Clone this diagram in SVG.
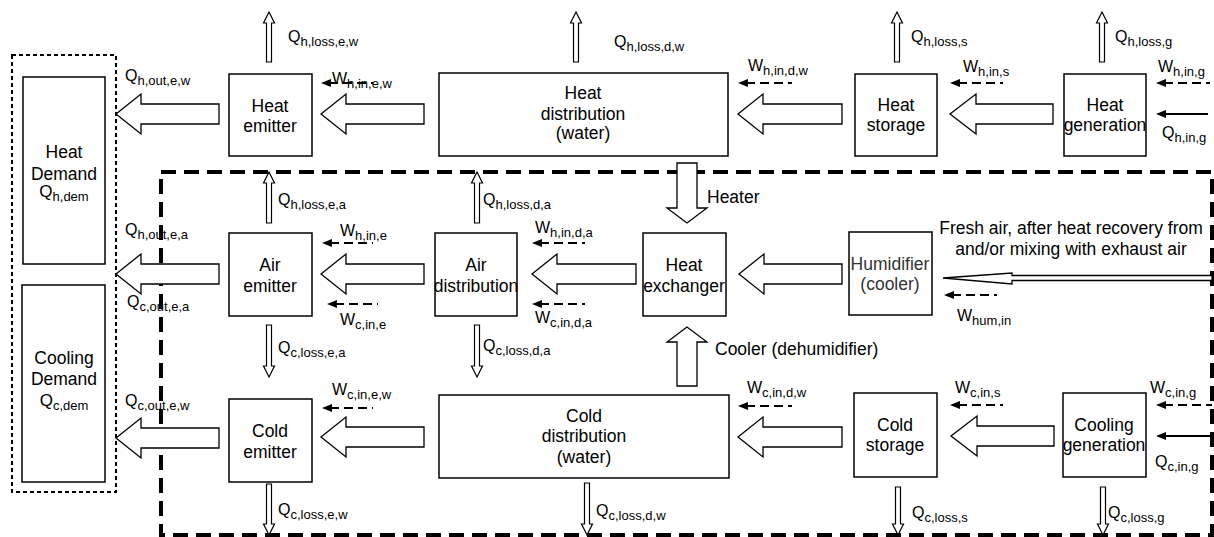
<svg xmlns="http://www.w3.org/2000/svg" width="1214" height="537" viewBox="0 0 1214 537">
<defs>
<style>
.box{fill:#fff;stroke:#000;stroke-width:1.5}
.big{fill:#fff;stroke:#000;stroke-width:1.3}
.sm{fill:#fff;stroke:#000;stroke-width:1.2}
.lbl{font-family:"Liberation Sans",Arial,sans-serif;font-size:17.5px;text-anchor:middle;fill:#000}
.q{font-family:"Liberation Sans",Arial,sans-serif;font-size:16px;fill:#000}
.s{font-size:13px}
.dash{stroke:#000;stroke-width:2;stroke-dasharray:9 5;fill:none}
.solid{stroke:#000;stroke-width:2;fill:none}
.head{fill:#000}
</style>
</defs>
<rect width="1214" height="537" fill="#fff"/>

<!-- boundaries -->
<g id="boundaries">
<rect x="12" y="55" width="104" height="437" fill="none" stroke="#000" stroke-width="2" stroke-dasharray="4 3"/>
<rect x="161" y="172" width="1051" height="363" fill="none" stroke="#000" stroke-width="4" stroke-dasharray="15 8"/>
</g>

<!-- nodes -->
<g id="heat-demand"><rect class="box" x="23" y="77" width="82" height="187"/>
<text class="lbl" x="64" y="158">Heat</text><text class="lbl" x="64" y="180">Demand</text>
<text class="q" x="64" y="197" text-anchor="middle" style="font-size:17px">Q<tspan class="s" dy="4">h,dem</tspan></text></g>
<g id="cooling-demand"><rect class="box" x="22" y="285" width="83" height="197"/>
<text class="lbl" x="64" y="364">Cooling</text><text class="lbl" x="64" y="385">Demand</text>
<text class="q" x="64" y="406" text-anchor="middle" style="font-size:17px">Q<tspan class="s" dy="4">c,dem</tspan></text></g>

<g id="heat-emitter"><rect class="box" x="229" y="74" width="83" height="82"/>
<text class="lbl" x="270" y="112">Heat</text><text class="lbl" x="270" y="132">emitter</text></g>
<g id="heat-distribution"><rect class="box" x="439" y="73" width="289" height="83"/>
<text class="lbl" x="583" y="99">Heat</text><text class="lbl" x="583" y="120">distribution</text><text class="lbl" x="583" y="139">(water)</text></g>
<g id="heat-storage"><rect class="box" x="855" y="74" width="82" height="82"/>
<text class="lbl" x="896" y="111">Heat</text><text class="lbl" x="896" y="131">storage</text></g>
<g id="heat-generation"><rect class="box" x="1064" y="74" width="82" height="82"/>
<text class="lbl" x="1105" y="111">Heat</text><text class="lbl" x="1105" y="131">generation</text></g>

<g id="air-emitter"><rect class="box" x="229" y="233" width="83" height="83"/>
<text class="lbl" x="270" y="271">Air</text><text class="lbl" x="270" y="292">emitter</text></g>
<g id="air-distribution"><rect class="box" x="435" y="233" width="82" height="83"/>
<text class="lbl" x="476" y="271">Air</text><text class="lbl" x="476" y="292">distribution</text></g>
<g id="heat-exchanger"><rect class="box" x="643" y="233" width="83" height="83"/>
<text class="lbl" x="684" y="271">Heat</text><text class="lbl" x="684" y="292">exchanger</text></g>
<g id="humidifier"><rect class="box" x="849" y="232" width="83" height="83"/>
<text class="lbl" x="890" y="270" style="fill:#333">Humidifier</text><text class="lbl" x="890" y="290" style="fill:#333">(cooler)</text></g>

<g id="cold-emitter"><rect class="box" x="229" y="399" width="83" height="83"/>
<text class="lbl" x="270" y="437">Cold</text><text class="lbl" x="270" y="458">emitter</text></g>
<g id="cold-distribution"><rect class="box" x="439" y="395" width="290" height="83"/>
<text class="lbl" x="584" y="422">Cold</text><text class="lbl" x="584" y="442">distribution</text><text class="lbl" x="584" y="463">(water)</text></g>
<g id="cold-storage"><rect class="box" x="854" y="393" width="83" height="84"/>
<text class="lbl" x="895" y="431">Cold</text><text class="lbl" x="895" y="451">storage</text></g>
<g id="cooling-generation"><rect class="box" x="1063" y="393" width="83" height="84"/>
<text class="lbl" x="1104" y="431">Cooling</text><text class="lbl" x="1104" y="451">generation</text></g>

<!-- connectors -->
<g id="connectors">
<path class="big" d="M116,114 L141,94 L141,104 L219,104 L219,124 L141,124 L141,134 Z"/>
<path class="big" d="M321,114 L346,94 L346,104 L424,104 L424,124 L346,124 L346,134 Z"/>
<path class="big" d="M738,114 L763,94 L763,104 L842,104 L842,124 L763,124 L763,134 Z"/>
<path class="big" d="M950,114 L976,94 L976,104 L1053,104 L1053,124 L976,124 L976,134 Z"/>
<path class="big" d="M116,274 L141,254 L141,264 L219,264 L219,284 L141,284 L141,294 Z"/>
<path class="big" d="M321,274 L346,254 L346,264 L424,264 L424,284 L346,284 L346,294 Z"/>
<path class="big" d="M532,274 L557,254 L557,264 L636,264 L636,284 L557,284 L557,294 Z"/>
<path class="big" d="M739,274 L764,254 L764,264 L842,264 L842,284 L764,284 L764,294 Z"/>
<path class="big" d="M116,438 L141,418 L141,428 L219,428 L219,448 L141,448 L141,458 Z"/>
<path class="big" d="M321,437 L346,417 L346,427 L424,427 L424,447 L346,447 L346,457 Z"/>
<path class="big" d="M738,437 L763,417 L763,427 L842,427 L842,447 L763,447 L763,457 Z"/>
<path class="big" d="M951,436 L977,416 L977,426 L1054,426 L1054,446 L977,446 L977,456 Z"/>
<path class="big" d="M687,223 L667,208 L677,208 L677,163 L697,163 L697,208 L707,208 Z"/>
<path class="big" d="M687,327 L667,342 L677,342 L677,386 L697,386 L697,342 L707,342 Z"/>
<path class="big" d="M943,278 L1012,273 L1012,275.5 L1212,275.5 L1212,280.5 L1012,280.5 L1012,284 Z"/>
<path class="sm" d="M269,12 L274.5,23 L271.5,23 L271.5,62 L266.5,62 L266.5,23 L263.5,23 Z"/>
<path class="sm" d="M576,12 L581.5,23 L578.5,23 L578.5,62 L573.5,62 L573.5,23 L570.5,23 Z"/>
<path class="sm" d="M897,12 L902.5,23 L899.5,23 L899.5,62 L894.5,62 L894.5,23 L891.5,23 Z"/>
<path class="sm" d="M1102,12 L1107.5,23 L1104.5,23 L1104.5,62 L1099.5,62 L1099.5,23 L1096.5,23 Z"/>
<path class="sm" d="M269,172 L274.5,183 L271.5,183 L271.5,223 L266.5,223 L266.5,183 L263.5,183 Z"/>
<path class="sm" d="M477,172 L482.5,183 L479.5,183 L479.5,223 L474.5,223 L474.5,183 L471.5,183 Z"/>
<path class="sm" d="M269,377 L274.5,366 L271.5,366 L271.5,325 L266.5,325 L266.5,366 L263.5,366 Z"/>
<path class="sm" d="M477,377 L482.5,366 L479.5,366 L479.5,325 L474.5,325 L474.5,366 L471.5,366 Z"/>
<path class="sm" d="M269,535 L274.5,524 L271.5,524 L271.5,484 L266.5,484 L266.5,524 L263.5,524 Z"/>
<path class="sm" d="M587,535 L592.5,524 L589.5,524 L589.5,483 L584.5,483 L584.5,524 L581.5,524 Z"/>
<path class="sm" d="M898,535 L903.5,524 L900.5,524 L900.5,487 L895.5,487 L895.5,524 L892.5,524 Z"/>
<path class="sm" d="M1103,535 L1108.5,524 L1105.5,524 L1105.5,487 L1100.5,487 L1100.5,524 L1097.5,524 Z"/>
<line class="dash" x1="329" y1="83" x2="373" y2="83"/><path class="head" d="M321,83 L331,79 L331,87 Z"/>
<line class="dash" x1="746" y1="83" x2="792" y2="83"/><path class="head" d="M738,83 L748,79 L748,87 Z"/>
<line class="dash" x1="958" y1="83" x2="1003" y2="83"/><path class="head" d="M950,83 L960,79 L960,87 Z"/>
<line class="dash" x1="1164" y1="83" x2="1210" y2="83"/><path class="head" d="M1156,83 L1166,79 L1166,87 Z"/>
<line class="dash" x1="330" y1="243" x2="373" y2="243"/><path class="head" d="M322,243 L332,239 L332,247 Z"/>
<line class="dash" x1="335" y1="304" x2="378" y2="304"/><path class="head" d="M327,304 L337,300 L337,308 Z"/>
<line class="dash" x1="540" y1="243" x2="585" y2="243"/><path class="head" d="M532,243 L542,239 L542,247 Z"/>
<line class="dash" x1="540" y1="304" x2="585" y2="304"/><path class="head" d="M532,304 L542,300 L542,308 Z"/>
<line class="dash" x1="952" y1="295" x2="997" y2="295"/><path class="head" d="M944,295 L954,291 L954,299 Z"/>
<line class="dash" x1="330" y1="408" x2="373" y2="408"/><path class="head" d="M322,408 L332,404 L332,412 Z"/>
<line class="dash" x1="746" y1="406" x2="792" y2="406"/><path class="head" d="M738,406 L748,402 L748,410 Z"/>
<line class="dash" x1="958" y1="405" x2="1003" y2="405"/><path class="head" d="M950,405 L960,401 L960,409 Z"/>
<line class="dash" x1="1164" y1="405" x2="1212" y2="405"/><path class="head" d="M1156,405 L1166,401 L1166,409 Z"/>
<line class="solid" x1="1164" y1="114" x2="1208" y2="114"/><path class="head" d="M1156,114 L1166,110 L1166,118 Z"/>
<line class="solid" x1="1164" y1="436" x2="1210" y2="436"/><path class="head" d="M1156,436 L1166,432 L1166,440 Z"/>
</g>

<!-- labels -->
<g id="labels">
<text class="q" x="288" y="42">Q<tspan class="s" dy="4">h,loss,e,w</tspan></text>
<text class="q" x="614" y="47">Q<tspan class="s" dy="4">h,loss,d,w</tspan></text>
<text class="q" x="911" y="42">Q<tspan class="s" dy="4">h,loss,s</tspan></text>
<text class="q" x="1115" y="42">Q<tspan class="s" dy="4">h,loss,g</tspan></text>
<text class="q" x="125" y="81">Q<tspan class="s" dy="4">h,out,e,w</tspan></text>
<text class="q" x="332" y="84">W<tspan class="s" dy="4">h,in,e,w</tspan></text>
<text class="q" x="748" y="71">W<tspan class="s" dy="4">h,in,d,w</tspan></text>
<text class="q" x="963" y="72">W<tspan class="s" dy="4">h,in,s</tspan></text>
<text class="q" x="1158" y="72">W<tspan class="s" dy="4">h,in,g</tspan></text>
<text class="q" x="1162" y="138">Q<tspan class="s" dy="4">h,in,g</tspan></text>
<text class="q" x="278" y="205">Q<tspan class="s" dy="4">h,loss,e,a</tspan></text>
<text class="q" x="483" y="205">Q<tspan class="s" dy="4">h,loss,d,a</tspan></text>
<text class="q" x="125" y="235">Q<tspan class="s" dy="4">h,out,e,a</tspan></text>
<text class="q" x="127" y="307">Q<tspan class="s" dy="4">c,out,e,a</tspan></text>
<text class="q" x="340" y="236">W<tspan class="s" dy="4">h,in,e</tspan></text>
<text class="q" x="340" y="325">W<tspan class="s" dy="4">c,in,e</tspan></text>
<text class="q" x="535" y="233">W<tspan class="s" dy="4">h,in,d,a</tspan></text>
<text class="q" x="535" y="323">W<tspan class="s" dy="4">c,in,d,a</tspan></text>
<text class="q" x="278" y="353">Q<tspan class="s" dy="4">c,loss,e,a</tspan></text>
<text class="q" x="483" y="351">Q<tspan class="s" dy="4">c,loss,d,a</tspan></text>
<text class="q" x="957" y="321">W<tspan class="s" dy="4">hum,in</tspan></text>
<text class="lbl" x="707" y="203" style="text-anchor:start">Heater</text>
<text class="lbl" x="715" y="355" style="text-anchor:start">Cooler (dehumidifier)</text>
<text class="lbl" x="1071" y="234">Fresh air, after heat recovery from</text>
<text class="lbl" x="1071" y="255">and/or mixing with exhaust air</text>
<text class="q" x="332" y="395">W<tspan class="s" dy="4">c,in,e,w</tspan></text>
<text class="q" x="125" y="406">Q<tspan class="s" dy="4">c,out,e,w</tspan></text>
<text class="q" x="747" y="393">W<tspan class="s" dy="4">c,in,d,w</tspan></text>
<text class="q" x="955" y="393">W<tspan class="s" dy="4">c,in,s</tspan></text>
<text class="q" x="1150" y="393">W<tspan class="s" dy="4">c,in,g</tspan></text>
<text class="q" x="1155" y="467">Q<tspan class="s" dy="4">c,in,g</tspan></text>
<text class="q" x="278" y="515">Q<tspan class="s" dy="4">c,loss,e,w</tspan></text>
<text class="q" x="596" y="516">Q<tspan class="s" dy="4">c,loss,d,w</tspan></text>
<text class="q" x="912" y="518">Q<tspan class="s" dy="4">c,loss,s</tspan></text>
<text class="q" x="1108" y="518">Q<tspan class="s" dy="4">c,loss,g</tspan></text>
</g>
</svg>
